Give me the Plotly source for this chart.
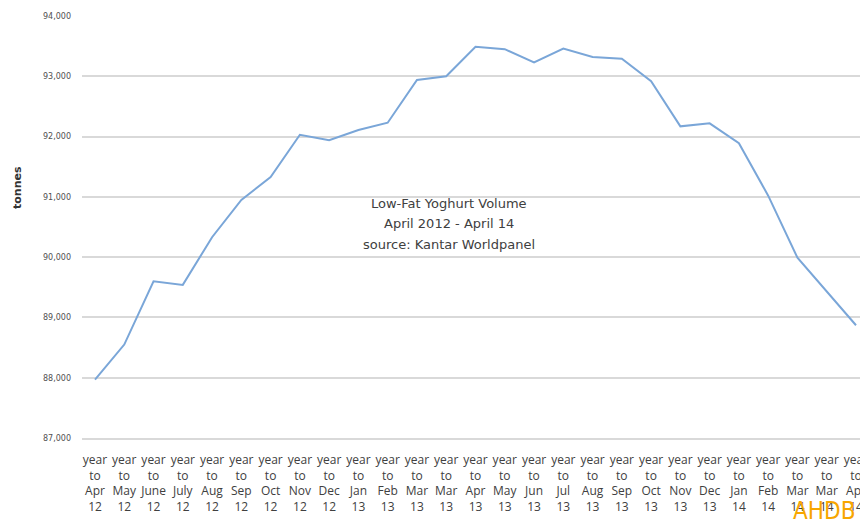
import plotly.graph_objects as go

months = ["Apr", "May", "June", "July", "Aug", "Sep", "Oct", "Nov", "Dec", "Jan", "Feb", "Mar", "Mar",
          "Apr", "May", "Jun", "Jul", "Aug", "Sep", "Oct", "Nov", "Dec", "Jan", "Feb", "Mar", "Mar", "Apr"]
years = ["12", "12", "12", "12", "12", "12", "12", "12", "12", "13", "13", "13", "13",
         "13", "13", "13", "13", "13", "13", "13", "13", "13", "14", "14", "14", "14", "14"]
volume = [87970, 88550, 89600, 89540, 90330, 90950, 91330, 92030, 91940, 92110, 92230, 92940, 93000,
          93490, 93450, 93230, 93460, 93320, 93290, 92920, 92170, 92220, 91890, 91020, 89990, 89430, 88870]
y_ticks = [87000, 88000, 89000, 90000, 91000, 92000, 93000, 94000]

tick_text = [f"year<br>to<br>{m}<br>{y}" for m, y in zip(months, years)]
x_idx = list(range(len(volume)))

# page body has an 8px margin: figure coords = screenshot coords - 8
OFF = 8
W, H = 868 - OFF, 525 - OFF
L, T = 82 - OFF, 16 - OFF
PW, PH = W - L, 430 - T


def px_x(sx):
    return (sx - OFF - L) / PW


def px_y(sy):
    return 1 - (sy - OFF - T) / PH


fig = go.Figure()
fig.add_trace(go.Scatter(
    x=x_idx, y=volume, mode="lines",
    line=dict(color="#7aa6d8", width=2),
    hoverinfo="skip", showlegend=False,
))

fig.update_layout(
    width=W, height=H,
    margin=dict(l=L, r=0, t=T, b=H - T - PH, pad=0),
    paper_bgcolor="white", plot_bgcolor="white",
    font=dict(family="Open Sans", color="#404040"),
    xaxis=dict(
        range=[-0.444, 26.41],
        tickmode="array", tickvals=x_idx, ticktext=tick_text,
        tickangle=0, showgrid=False, zeroline=False,
        showline=True, linecolor="#d9d9d9", linewidth=1.5,
        tickfont=dict(size=12, color="#404040", family="Open Sans"),
        ticks="", ticklabelstandoff=10, ticklabeloverflow="allow",
    ),
    yaxis=dict(
        range=[87000, 94000],
        tickmode="array", tickvals=y_ticks,
        ticktext=[f"{v:,}" for v in y_ticks],
        showgrid=True, gridcolor="#d9d9d9", gridwidth=1.5,
        zeroline=False, showline=False, ticks="",
        tickfont=dict(size=8, color="#505050", family="DejaVu Sans"),
        ticklabelstandoff=10,
    ),
)

# y-axis title
fig.add_annotation(
    text="<b>tonnes</b>", xref="paper", yref="paper",
    x=px_x(17), y=px_y(188), xanchor="center", yanchor="middle",
    showarrow=False, textangle=-90,
    font=dict(size=11, color="#333333", family="DejaVu Sans"),
)

# centered caption lines
captions = ["Low-Fat Yoghurt Volume", "April 2012 - April 14", "source: Kantar Worldpanel"]
cap_y = [203, 223.5, 244]
for txt, sy in zip(captions, cap_y):
    fig.add_annotation(
        text=txt, xref="paper", yref="paper",
        x=px_x(449), y=px_y(sy), xanchor="center", yanchor="middle",
        showarrow=False,
        font=dict(size=13, color="#404040", family="DejaVu Sans"),
    )

# logo text
fig.add_annotation(
    text="AHDB", xref="paper", yref="paper",
    x=px_x(824), y=px_y(511), xanchor="center", yanchor="middle",
    showarrow=False,
    font=dict(size=24, color="#f7a600", family="DejaVu Sans Condensed, Liberation Sans, sans-serif"),
)

fig.write_html("out.html")
